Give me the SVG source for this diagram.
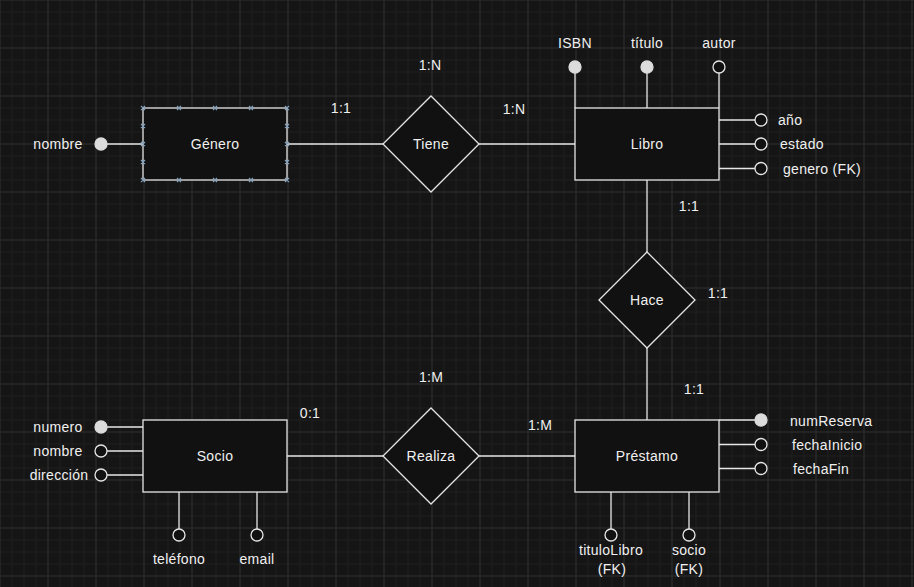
<svg xmlns="http://www.w3.org/2000/svg" width="914" height="587" viewBox="0 0 914 587">
<defs>
<pattern id="minor" x="-0.5" y="-0.5" width="12" height="12" patternUnits="userSpaceOnUse">
<path d="M0.5 0 V12 M0 0.5 H12" stroke="#1e1e1e" stroke-width="1" fill="none"/>
</pattern>
<pattern id="major" x="-0.5" y="-0.5" width="48" height="48" patternUnits="userSpaceOnUse">
<path d="M0.5 0 V48 M0 0.5 H48" stroke="#2c2c2c" stroke-width="1" fill="none"/>
</pattern>
<style>
.ln{stroke:#e6e6e6;stroke-width:1.3;fill:none}
.box{stroke:#e6e6e6;stroke-width:1.3;fill:#111111}
.pk{fill:#dcdcdc;stroke:#dcdcdc;stroke-width:1.3}
.at{fill:#111111;stroke:#e6e6e6;stroke-width:1.3}
text{font-family:"Liberation Sans",Arial,sans-serif;font-size:14px;fill:#f0f0f0;letter-spacing:0.3px}
.c{text-anchor:middle}
.sel{stroke:#7fa3c0;stroke-width:1.2;fill:none}
</style>
</defs>
<rect width="914" height="587" fill="#151515"/>
<rect width="914" height="587" fill="url(#minor)"/>
<rect width="914" height="587" fill="url(#major)"/>

<g id="connectors">
<path class="ln" d="M287 144 H383"/>
<path class="ln" d="M479 144 H575"/>
<path class="ln" d="M647 180 V252"/>
<path class="ln" d="M647 348 V420"/>
<path class="ln" d="M287 456 H383"/>
<path class="ln" d="M479 456 H575"/>
<!-- attribute lines -->
<path class="ln" d="M107 144 H143"/>
<path class="ln" d="M575 73 V108 M647 73 V108 M719 73 V108"/>
<path class="ln" d="M719 120 H755 M719 144 H755 M719 168.5 H755"/>
<path class="ln" d="M719 420 H755 M719 444.5 H755 M719 468.5 H755"/>
<path class="ln" d="M611 492 V529 M689 492 V529"/>
<path class="ln" d="M107 427 H143 M107 451 H143 M107 475 H143"/>
<path class="ln" d="M179 492 V529 M257 492 V529"/>
</g>

<g id="genero">
<rect class="box" x="143" y="108" width="144" height="72"/>
<text class="c" x="215" y="149">Género</text>
<path class="sel" d="M141 106l4 4m0-4l-4 4 M177 106l4 4m0-4l-4 4 M213 106l4 4m0-4l-4 4 M249 106l4 4m0-4l-4 4 M285 106l4 4m0-4l-4 4 M141 178l4 4m0-4l-4 4 M177 178l4 4m0-4l-4 4 M213 178l4 4m0-4l-4 4 M249 178l4 4m0-4l-4 4 M285 178l4 4m0-4l-4 4 M141 124l4 4m0-4l-4 4 M141 142l4 4m0-4l-4 4 M141 160l4 4m0-4l-4 4 M285 124l4 4m0-4l-4 4 M285 142l4 4m0-4l-4 4 M285 160l4 4m0-4l-4 4"/>
</g>
<g id="genero-nombre">
<circle class="pk" cx="101" cy="144" r="6"/>
<text class="c" x="58" y="149">nombre</text>
</g>

<g id="tiene">
<path class="box" d="M431 96 L479 144 L431 192 L383 144 Z"/>
<text class="c" x="431" y="149">Tiene</text>
</g>

<g id="libro">
<rect class="box" x="575" y="108" width="144" height="72"/>
<text class="c" x="647" y="149">Libro</text>
</g>
<g id="libro-attrs">
<circle class="pk" cx="575" cy="67" r="6"/>
<text class="c" x="575" y="48">ISBN</text>
<circle class="pk" cx="647" cy="67" r="6"/>
<text class="c" x="647" y="48">título</text>
<circle class="at" cx="719" cy="67" r="6"/>
<text class="c" x="719" y="48">autor</text>
<circle class="at" cx="761" cy="120" r="6"/>
<text x="778" y="125">año</text>
<circle class="at" cx="761" cy="144" r="6"/>
<text x="780" y="149">estado</text>
<circle class="at" cx="761" cy="168.5" r="6"/>
<text x="783" y="174">genero (FK)</text>
</g>

<g id="hace">
<path class="box" d="M647 252 L695 300 L647 348 L599 300 Z"/>
<text class="c" x="647" y="305">Hace</text>
</g>

<g id="prestamo">
<rect class="box" x="575" y="420" width="144" height="72"/>
<text class="c" x="647" y="461">Préstamo</text>
</g>
<g id="prestamo-attrs">
<circle class="pk" cx="761" cy="420" r="6"/>
<text x="790" y="426">numReserva</text>
<circle class="at" cx="761" cy="444.5" r="6"/>
<text x="792" y="450">fechaInicio</text>
<circle class="at" cx="761" cy="468.5" r="6"/>
<text x="793" y="474">fechaFin</text>
<circle class="at" cx="611" cy="535" r="6"/>
<text class="c" x="611" y="555">tituloLibro</text>
<text class="c" x="612" y="574">(FK)</text>
<circle class="at" cx="689" cy="535" r="6"/>
<text class="c" x="689" y="555">socio</text>
<text class="c" x="689" y="574">(FK)</text>
</g>

<g id="realiza">
<path class="box" d="M431 408 L479 456 L431 504 L383 456 Z"/>
<text class="c" x="431" y="461">Realiza</text>
</g>

<g id="socio">
<rect class="box" x="143" y="420" width="144" height="72"/>
<text class="c" x="215" y="461">Socio</text>
</g>
<g id="socio-attrs">
<circle class="pk" cx="101" cy="427" r="6"/>
<text class="c" x="58" y="432">numero</text>
<circle class="at" cx="101" cy="451" r="6"/>
<text class="c" x="58" y="456">nombre</text>
<circle class="at" cx="101" cy="475" r="6"/>
<text class="c" x="59" y="480">dirección</text>
<circle class="at" cx="179" cy="535" r="6"/>
<text class="c" x="179" y="564">teléfono</text>
<circle class="at" cx="257" cy="535" r="6"/>
<text class="c" x="257" y="564">email</text>
</g>

<g id="cardinalities">
<text class="c" x="430" y="70">1:N</text>
<text class="c" x="341" y="113">1:1</text>
<text class="c" x="514" y="114">1:N</text>
<text class="c" x="689" y="211">1:1</text>
<text class="c" x="718" y="298">1:1</text>
<text class="c" x="694" y="394">1:1</text>
<text class="c" x="431" y="382">1:M</text>
<text class="c" x="310" y="418">0:1</text>
<text class="c" x="540" y="430">1:M</text>
</g>
</svg>
